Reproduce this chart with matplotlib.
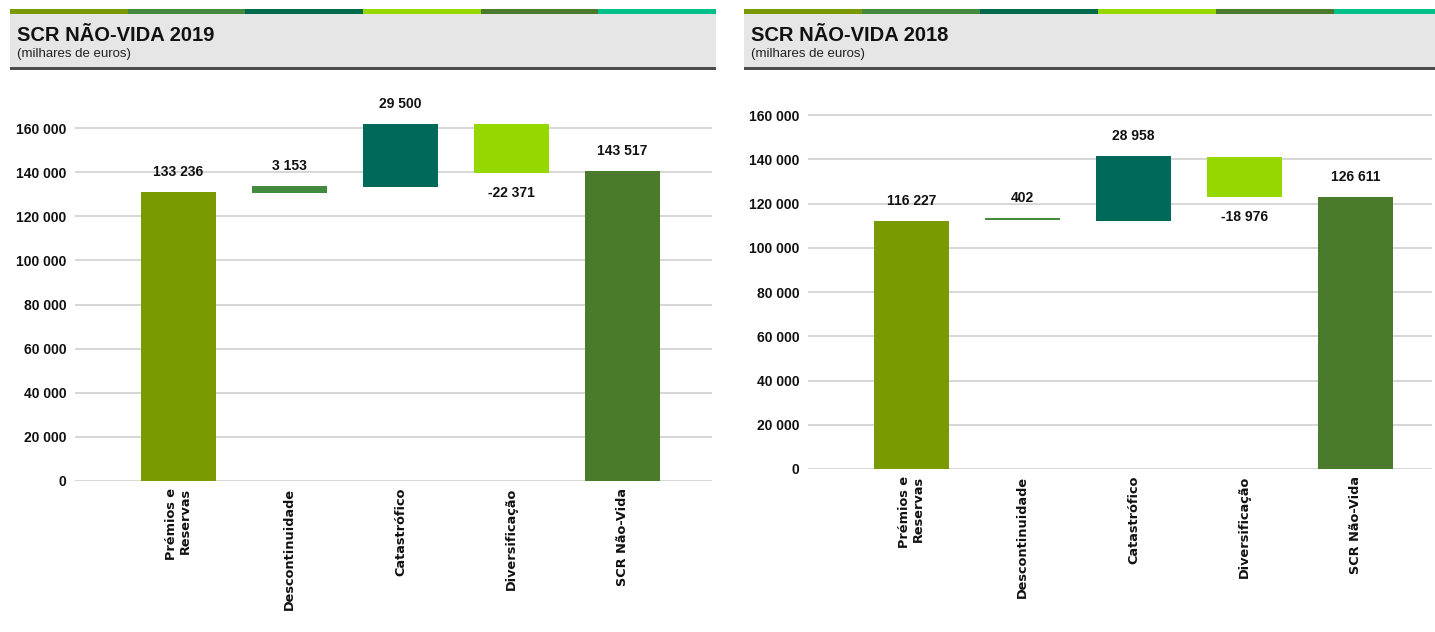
import matplotlib.pyplot as plt
from matplotlib.patches import Rectangle

# categories and values (milhares de euros)
cats = ['Prémios e\nReservas', 'Descontinuidade', 'Catastrófico', 'Diversificação', 'SCR Não-Vida']
vals_2019 = [133236, 3153, 29500, -22371, 143517]
vals_2018 = [116227, 402, 28958, -18976, 126611]
# bar extents as drawn in the source picture
lo_2019 = [0, 130700, 133400, 139800, 0]
hi_2019 = [131000, 133600, 161800, 161800, 140500]
lo_2018 = [0, 112400, 112200, 122900, 0]
hi_2018 = [112100, 113300, 141500, 141000, 122900]
yticks = [0, 20000, 40000, 60000, 80000, 100000, 120000, 140000, 160000]

bar_cols = ['#7A9A01', '#448A3E', '#00695A', '#97D700', '#4A7A2C']
strip_cols = ['#7A9A01', '#448A3E', '#006A4E', '#97D700', '#4A7A2C', '#00BF8B']

W, H = 1435, 632
fig = plt.figure(figsize=(W / 100, H / 100), dpi=100)

num_font = ['Liberation Sans', 'DejaVu Sans']
title_font = ['Liberation Sans', 'DejaVu Sans']


def fmt(v):
    return '{:,}'.format(v).replace(',', ' ')


def header(x0, x1, title):
    # coloured strip
    seg = (x1 - x0) / 6
    for i, c in enumerate(strip_cols):
        fig.patches.append(Rectangle(((x0 + i * seg) / W, 1 - 14 / H), seg / W, 5 / H,
                                     transform=fig.transFigure, color=c, lw=0))
    fig.patches.append(Rectangle((x0 / W, 1 - 67 / H), (x1 - x0) / W, 53 / H,
                                 transform=fig.transFigure, color='#E6E6E6', lw=0))
    fig.patches.append(Rectangle((x0 / W, 1 - 69.5 / H), (x1 - x0) / W, 2.5 / H,
                                 transform=fig.transFigure, color='#4D4D4D', lw=0))
    fig.text((x0 + 7) / W, 1 - 41 / H, title, family=title_font, weight='bold',
             fontsize=14.5, color='#111111', va='baseline')
    fig.text((x0 + 7) / W, 1 - 57 / H, '(milhares de euros)', family=num_font,
             fontsize=9.5, color='#222222', va='baseline')


def panel(rect, lo, hi, vals, xl):
    ax = fig.add_axes(rect)
    x = list(range(len(cats)))
    heights = [h - l for h, l in zip(hi, lo)]
    ax.bar(x, heights, bottom=lo, width=0.676, color=bar_cols, zorder=3)
    for i, v in enumerate(vals):
        if v < 0:
            ax.annotate(fmt(v), (i, lo[i]), xytext=(0, -20), textcoords='offset pixels',
                        ha='center', va='center', fontsize=10, weight='bold',
                        family=num_font, color='#111111')
        else:
            ax.annotate(fmt(v), (i, hi[i]), xytext=(0, 20), textcoords='offset pixels',
                        ha='center', va='center', fontsize=10, weight='bold',
                        family=num_font, color='#111111')
    ax.set_ylim(0, 170000)
    ax.set_xlim(*xl)
    ax.set_yticks(yticks)
    ax.set_yticklabels([fmt(t) for t in yticks], family=num_font, weight='bold',
                       fontsize=10, color='#111111')
    ax.grid(axis='y', color='#CCCCCC', lw=1.1, zorder=0)
    ax.set_xticks(x)
    ax.set_xticklabels(cats, rotation=90, fontsize=9.3, weight='bold',
                       va='top', ha='center', multialignment='right', color='#111111',
                       linespacing=1.05)
    ax.tick_params(length=0, axis='both')
    ax.tick_params(axis='y', pad=6)
    ax.tick_params(axis='x', pad=5)
    for s in ax.spines.values():
        s.set_visible(False)
    return ax


header(10, 716, 'SCR NÃO-VIDA 2019')
header(744, 1452, 'SCR NÃO-VIDA 2018')

panel([75 / W, (H - 481) / H, 637 / W, 375 / H], lo_2019, hi_2019, vals_2019, (-0.932, 4.806))
panel([808 / W, (H - 469) / H, 624 / W, 376.1 / H], lo_2018, hi_2018, vals_2018, (-0.932, 4.689))

fig.savefig('out.png', dpi=100, facecolor='white')
